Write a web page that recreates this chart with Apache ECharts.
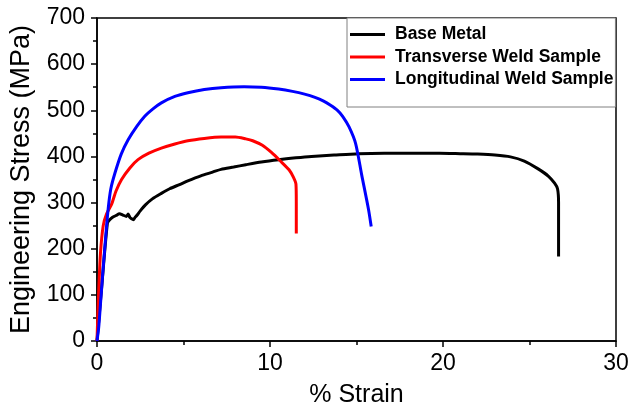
<!DOCTYPE html>
<html>
<head>
<meta charset="utf-8">
<script src="https://cdn.jsdelivr.net/npm/echarts@6/dist/echarts.min.js"></script>
<style>html,body{margin:0;padding:0;background:#fff;}#c{width:632px;height:409px;}</style>
</head>
<body>
<div id="c"></div>
<script>
var seriesNames = ['Base Metal', 'Transverse Weld Sample', 'Longitudinal Weld Sample'];
var baseMetal = [[0,0],[0.3,130],[0.6,255],[0.72,262],[0.9,268],[1.1,272],[1.3,276],[1.5,273],[1.7,270],[1.8,275],[1.9,268],[2.0,265],[2.1,263],[2.2,268],[2.3,272],[2.5,282],[2.8,295],[3.2,308],[3.72,320],[4.2,330],[4.77,339],[5.25,347],[6.0,358],[6.68,366],[7.17,372],[7.9,377],[8.6,382],[9.5,388],[10.5,393],[11.5,397],[12.4,400],[13.7,403],[15.1,406],[16.6,407],[18.2,407],[19.8,407],[21.0,406],[22.0,405],[23.0,403],[23.9,399],[24.7,390],[25.5,373],[26.1,357],[26.45,342],[26.62,330],[26.68,300],[26.68,250],[26.68,183]];
var transverse = [[0,0],[0.05,60],[0.1,110],[0.2,190],[0.36,250],[0.55,275],[0.84,296],[1.1,325],[1.42,350],[1.9,375],[2.37,393],[3.0,407],[3.72,418],[4.5,427],[5.25,434],[6.2,439],[7.17,442],[8.0,442],[8.6,438],[9.0,434],[9.56,424],[10.1,408],[10.6,390],[11.1,371],[11.35,355],[11.5,340],[11.52,300],[11.52,233]];
var longitudinal = [[0,0],[0.1,30],[0.2,80],[0.35,155],[0.5,225],[0.65,288],[0.8,330],[1.03,363],[1.4,405],[1.8,436],[2.3,465],[2.76,487],[3.2,502],[3.72,516],[4.5,530],[5.25,538],[6.2,545],[7.17,549],[8.5,551],[9.5,550],[10.5,546],[11.3,541],[12.0,535],[12.6,528],[13.1,520],[13.5,511],[13.9,500],[14.2,487],[14.57,464],[14.95,428],[15.3,360],[15.7,284],[15.85,248]];
var seriesData = [baseMetal, transverse, longitudinal];
var seriesColors = ['#000000', '#ff0000', '#0000ff'];

var chart = echarts.init(document.getElementById('c'));
var font = 'Arial, "Liberation Sans", sans-serif';
chart.setOption({
  animation: false,
  backgroundColor: '#fff',
  grid: { left: 97, right: 16, top: 18, bottom: 68, containLabel: false, outerBoundsMode: 'none', show: true, borderColor: '#000', borderWidth: 1.5, backgroundColor: 'transparent' },
  legend: {
    orient: 'vertical', left: 347, top: 18,
    data: seriesNames,
    icon: 'rect', itemWidth: 35, itemHeight: 3, itemGap: 4.5,
    padding: [7.5, 2, 18.5, 3],
    borderColor: '#808080', borderWidth: 1, backgroundColor: '#fff',
    textStyle: { fontFamily: font, fontSize: 17.5, lineHeight: 18, fontWeight: 'bold', color: '#000', padding: [0, 0, 0, 5] }
  },
  xAxis: {
    type: 'value', min: 0, max: 30, interval: 10,
    name: '% Strain', nameLocation: 'middle', nameGap: 42,
    nameTextStyle: { fontFamily: font, fontSize: 25, color: '#000' },
    axisLine: { show: true, lineStyle: { color: '#000', width: 1.5 } },
    axisTick: { show: true, inside: false, length: 6, lineStyle: { color: '#000', width: 1.5 } },
    minorTick: { show: true, splitNumber: 2, length: 4, lineStyle: { color: '#000', width: 1.5 } },
    axisLabel: { fontFamily: font, fontSize: 23, color: '#000', margin: 11 },
    splitLine: { show: false }
  },
  yAxis: {
    type: 'value', min: 0, max: 700, interval: 100,
    name: 'Engineering Stress (MPa)', nameLocation: 'middle', nameGap: 62,
    nameTextStyle: { fontFamily: font, fontSize: 27, color: '#000' },
    axisLine: { show: true, lineStyle: { color: '#000', width: 1.5 } },
    axisTick: { show: true, inside: false, length: 6, lineStyle: { color: '#000', width: 1.5 } },
    minorTick: { show: true, splitNumber: 2, length: 4, lineStyle: { color: '#000', width: 1.5 } },
    axisLabel: { fontFamily: font, fontSize: 23, color: '#000', margin: 12 },
    splitLine: { show: false }
  },
  series: seriesNames.map(function (n, i) {
    return {
      name: n, type: 'line', data: seriesData[i], symbol: 'none', smooth: 0.25,
      lineStyle: { color: seriesColors[i], width: 3 }, itemStyle: { color: seriesColors[i] }
    };
  })
});
</script>
</body>
</html>
